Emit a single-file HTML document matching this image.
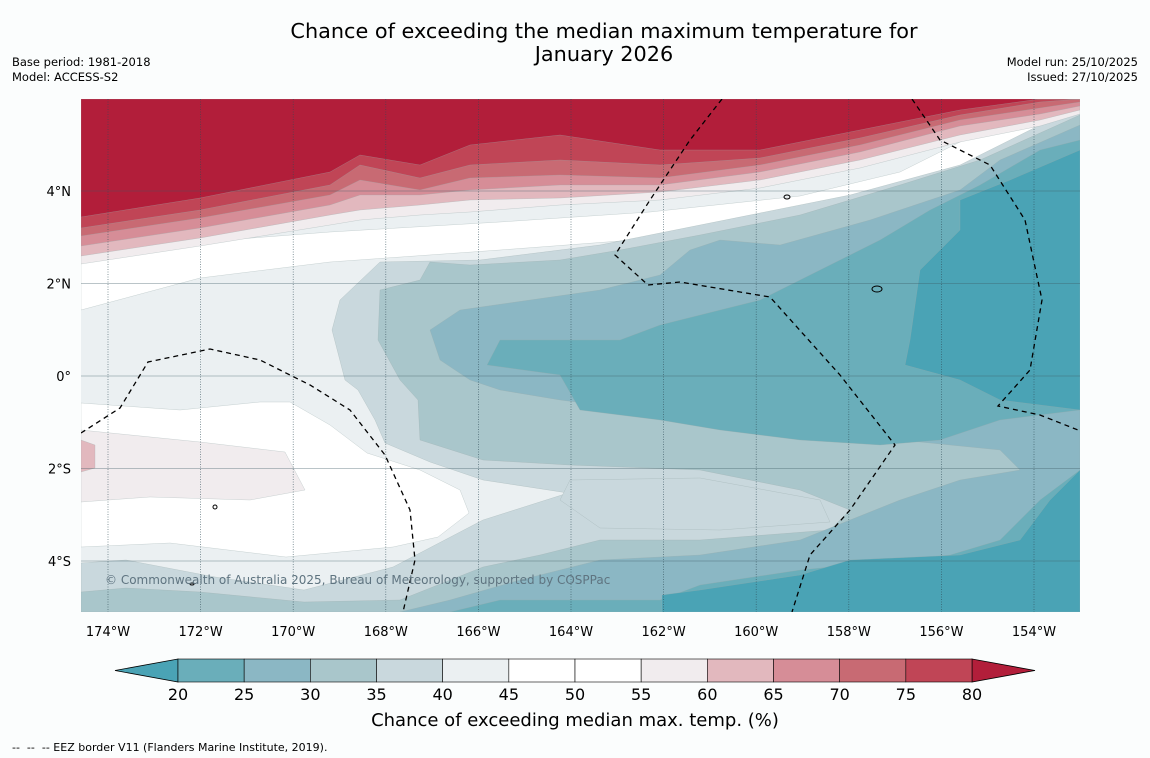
<!DOCTYPE html>
<html><head><meta charset="utf-8">
<style>
body{margin:0;background:#fbfdfd;}
svg{display:block;font-family:"DejaVu Sans","Liberation Sans",sans-serif;}
</style></head>
<body>
<svg id="chart" width="1150" height="758" viewBox="0 0 1150 758" xmlns="http://www.w3.org/2000/svg">
<rect width="1150" height="758" fill="#fbfdfd"/>
<text x="604" y="38" font-size="20.8" text-anchor="middle" fill="#000">Chance of exceeding the median maximum temperature for</text>
<text x="604" y="61" font-size="20.8" text-anchor="middle" fill="#000">January 2026</text>
<text x="12" y="66" font-size="11.5">Base period: 1981-2018</text>
<text x="12" y="81" font-size="11.5">Model: ACCESS-S2</text>
<text x="1138" y="66" font-size="11.5" text-anchor="end">Model run: 25/10/2025</text>
<text x="1138" y="81" font-size="11.5" text-anchor="end">Issued: 27/10/2025</text>
<defs><clipPath id="mapclip"><rect x="81" y="99" width="999" height="513"/></clipPath></defs>
<g id="map" clip-path="url(#mapclip)"></g>
<g id="axes"></g>
<g id="cbar"></g>
<text x="575" y="726" font-size="18" text-anchor="middle">Chance of exceeding median max. temp. (%)</text>
<text x="12" y="751" font-size="11" xml:space="preserve" style="white-space:pre">--  --  -- EEZ border V11 (Flanders Marine Institute, 2019).</text>
</svg>
<script>
const levels=[20,25,30,35,40,45,50,55,60,65,70,75,80];
const bandColors=["#6aaeba","#8bb7c4","#a9c6cb","#c9d8dd","#ebf0f2","#ffffff","#ffffff","#f1ecee","#e2b8be","#d68d97","#c86a73","#c04556"];
const underColor="#4aa3b5", overColor="#b21e3a";
const lonTicks=[-174,-172,-170,-168,-166,-164,-162,-160,-158,-156,-154];
const latTicks=[4,2,0,-2,-4];
const NS="http://www.w3.org/2000/svg";
function mk(tag,attrs,parent){const e=document.createElementNS(NS,tag);for(const k in attrs)e.setAttribute(k,attrs[k]);parent.appendChild(e);return e;}
const xLon=l=>108+(l+174)*46.3;
const yLat=l=>376-l*46.25;
const map=document.getElementById('map');
const P=a=>a.map(p=>p.join(',')).join(' ');
function poly(pts,fill,name){const e=mk('polygon',{points:P(pts),fill:fill,stroke:'#9aa',"stroke-width":0.25},map);

}
const b=mk('rect',{x:81,y:99,width:999,height:513,fill:"#ebf0f2"},map);


poly([[81,258],[200,242],[330,232],[500,222],[650,212],[800,196],[900,172],[1000,122],[1060,99],[1080,99],[1080,130],[900,200],[700,235],[500,250],[330,262],[200,278],[81,310]],"#ffffff","contour-45-55-north");
poly([[81,403],[180,410],[260,402],[290,402],[330,425],[367,453],[420,470],[460,490],[469,513],[438,537],[393,547],[286,557],[170,543],[81,547]],"#ffffff","contour-45-55-south");
poly([[81,430],[200,442],[285,452],[305,490],[250,500],[150,497],[81,502]],"#f1ecee","contour-55-60-south");
poly([[81,440],[95,445],[95,468],[81,472]],"#e2b8be","contour-60-65-south");
poly([[1080,105],[1040,125],[960,165],[850,195],[700,225],[600,245],[480,260],[380,262],[340,300],[332,330],[345,380],[358,390],[375,420],[385,443],[430,462],[483,480],[568,493],[483,520],[393,567],[304,590],[215,577],[126,560],[81,563],[81,612],[1080,612]],"#c9d8dd","contour-35-40");
poly([[1080,115],[980,160],[900,185],[800,215],[700,235],[620,250],[560,260],[470,265],[430,262],[420,280],[380,290],[378,340],[400,380],[418,400],[420,440],[483,460],[570,465],[700,470],[800,490],[850,510],[830,530],[700,540],[600,540],[540,555],[483,567],[400,600],[304,602],[200,592],[126,588],[81,592],[81,612],[1080,612]],"#a9c6cb","contour-30-35");
poly([[570,480],[700,478],[820,500],[830,522],[720,530],[600,528],[560,500]],"#c9d8dd","contour-35-40-patch");
poly([[1080,125],[1000,160],[960,190],[870,220],[780,245],[720,240],[690,250],[660,275],[600,290],[530,300],[460,310],[430,330],[440,360],[470,380],[500,390],[560,400],[640,410],[720,420],[800,430],[900,440],[1000,450],[1020,470],[960,480],[900,500],[850,520],[800,540],[700,555],[600,560],[520,580],[450,600],[400,612],[1080,612]],"#8bb7c4","contour-25-30");
poly([[1080,140],[1040,150],[980,185],[930,210],[880,240],[820,270],[760,300],[700,315],[660,325],[620,340],[560,340],[500,340],[487,365],[560,375],[580,410],[660,420],[720,430],[800,440],[880,445],[940,440],[1000,420],[1080,410]],"#6aaeba","contour-20-25-north");
poly([[1080,470],[1040,500],[1000,540],[950,555],[800,570],[700,585],[660,600],[500,600],[450,612],[1080,612]],"#6aaeba","contour-20-25-south");
poly([[1080,150],[1010,180],[960,200],[960,230],[920,270],[910,340],[905,365],[960,380],[1000,400],[1080,410]],"#4aa3b5","contour-below-20-east");
poly([[1080,470],[1050,500],[1020,540],[960,555],[850,560],[800,575],[700,590],[662,595],[662,612],[1080,612]],"#4aa3b5","contour-below-20-south");
const rx=[81,200,330,360,420,470,560,660,760,860,960,1040,1080];
const redCurves=[[264,246,225,220,215,212,205,200,188,168,142,126,114],[256,238,215,210,205,200,198,192,180,160,135,120,110],[246,228,205,195,195,190,185,185,172,152,126,114,106],[236,218,195,180,190,178,175,178,165,145,120,108,102],[228,210,185,165,178,165,160,165,158,138,115,102,99],[217,198,172,155,165,145,135,150,150,130,110,99,99]];
const redFills=["#f1ecee","#e2b8be","#d68d97","#c86a73","#c04556","#b21e3a"];
redCurves.forEach((c,i)=>{const pts=[[81,99]];rx.forEach((x,j)=>pts.push([x,c[j]]));pts.push([1080,99]);poly(pts,redFills[i],'contour-red-'+i);});
lonTicks.forEach(l=>{const e=mk('line',{x1:xLon(l),x2:xLon(l),y1:99,y2:612,stroke:"#2d4a55","stroke-width":0.7,"stroke-dasharray":"1,1.5",opacity:0.8},map);

});
latTicks.forEach(l=>{const e=mk('line',{x1:81,x2:1080,y1:yLat(l),y2:yLat(l),stroke:"#3d5a65","stroke-width":0.6,opacity:0.7},map);

});
const eez=[[[81,433],[120,408],[148,362],[210,349],[260,360],[310,385],[350,410],[385,455],[410,510],[415,560],[403,612]],
[[722,99],[690,140],[650,200],[615,255],[648,285],[680,282],[770,297],[840,375],[895,445],[850,510],[810,555],[792,612]],
[[912,99],[940,140],[990,165],[1025,220],[1042,300],[1030,370],[998,406],[1040,415],[1078,430]]];
eez.forEach(p=>{const e=mk('polyline',{points:P(p),fill:"none",stroke:"#000","stroke-width":1.3,"stroke-dasharray":"5,4"},map);

});
[[787,197,3,2],[877,289,5,3],[215,507,2,2],[192,584,2,1]].forEach(c=>{const e=mk('ellipse',{cx:c[0],cy:c[1],rx:c[2],ry:c[3],fill:"none",stroke:"#000","stroke-width":1},map);

});
const ct=mk('text',{x:105,y:584,"font-size":12,fill:"#5f7480"},map);ct.textContent="© Commonwealth of Australia 2025, Bureau of Meteorology, supported by COSPPac";


const ax=document.getElementById('axes');
lonTicks.forEach(l=>{const t=mk('text',{x:xLon(l),y:636,"font-size":13,"text-anchor":"middle"},ax);t.textContent=Math.abs(l)+"°W";

});
latTicks.forEach(l=>{const t=mk('text',{x:71,y:yLat(l)+5,"font-size":13,"text-anchor":"end"},ax);t.textContent=l===0?"0°":Math.abs(l)+"°"+(l>0?"N":"S");

});
const cb=document.getElementById('cbar');
const cx0=178,cx1=972,cy0=659,cy1=682,n=bandColors.length,w=(cx1-cx0)/n;
const lt=mk('polygon',{points:P([[cx0,cy0],[115,670.5],[cx0,cy1]]),fill:underColor,stroke:"#000","stroke-width":0.8},cb);


const rt=mk('polygon',{points:P([[cx1,cy0],[1035,670.5],[cx1,cy1]]),fill:overColor,stroke:"#000","stroke-width":0.8},cb);


bandColors.forEach((c,i)=>{const r=mk('rect',{x:cx0+i*w,y:cy0,width:w,height:cy1-cy0,fill:c,stroke:"#000","stroke-width":0.6},cb);

});
levels.forEach((v,i)=>{const t=mk('text',{x:cx0+i*w,y:700,"font-size":16,"text-anchor":"middle"},cb);t.textContent=v;

});
</script>
</body></html>
